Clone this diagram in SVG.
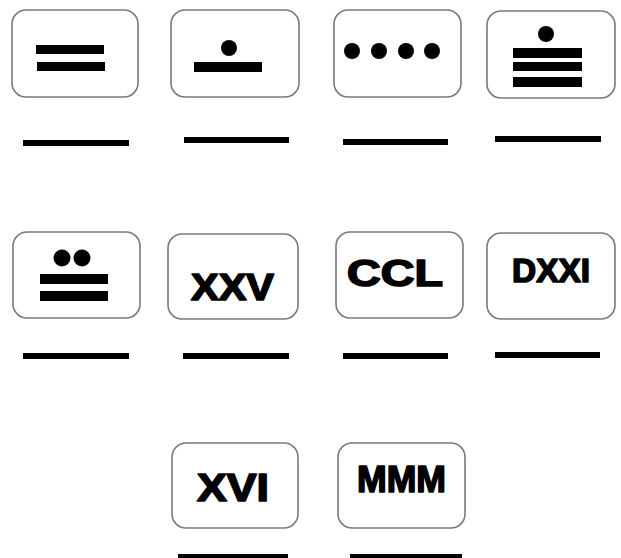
<svg xmlns="http://www.w3.org/2000/svg" width="621" height="558" viewBox="0 0 621 558">
<style>
.box{fill:#fff;stroke:#7a7a7a;stroke-width:1.6}
.bar{fill:#000}
.line{fill:#000}
.num{font-family:"Liberation Sans",Arial,sans-serif;font-weight:bold;fill:#000;stroke:#000;stroke-width:1.6;stroke-linejoin:round}
</style>
<rect width="621" height="558" fill="#fff"/>
<g id="n1">
<rect class="box" x="12" y="10" width="126" height="87" rx="14"/>
<rect class="bar" x="36" y="45" width="68" height="9"/>
<rect class="bar" x="37" y="62" width="68" height="9"/>
<rect class="line" x="23" y="140" width="106" height="6"/>
</g>
<g id="n2">
<rect class="box" x="171" y="10" width="128" height="87" rx="14"/>
<circle class="bar" cx="229" cy="48" r="8"/>
<rect class="bar" x="194" y="62" width="68" height="10"/>
<rect class="line" x="184" y="137" width="105" height="6"/>
</g>
<g id="n3">
<rect class="box" x="334" y="10" width="127" height="87" rx="14"/>
<circle class="bar" cx="352" cy="51" r="8"/>
<circle class="bar" cx="379" cy="51" r="8"/>
<circle class="bar" cx="406" cy="51" r="8"/>
<circle class="bar" cx="432" cy="51" r="8"/>
<rect class="line" x="343" y="139" width="105" height="6"/>
</g>
<g id="n4">
<rect class="box" x="487" y="11" width="128" height="87" rx="14"/>
<circle class="bar" cx="546" cy="34" r="8"/>
<rect class="bar" x="513" y="48" width="69" height="10"/>
<rect class="bar" x="513" y="62" width="69" height="9"/>
<rect class="bar" x="513" y="77" width="69" height="10"/>
<rect class="line" x="495" y="136" width="106" height="6"/>
</g>
<g id="n5">
<rect class="box" x="13" y="232" width="127" height="86" rx="14"/>
<circle class="bar" cx="62" cy="258" r="8.5"/>
<circle class="bar" cx="82" cy="258" r="8.5"/>
<rect class="bar" x="40" y="274" width="68" height="10"/>
<rect class="bar" x="40" y="291" width="68" height="10"/>
<rect class="line" x="23" y="353" width="106" height="6"/>
</g>
<g id="n6">
<rect class="box" x="168" y="234" width="130" height="85" rx="14"/>
<text class="num" x="191" y="300" font-size="36" textLength="83" lengthAdjust="spacingAndGlyphs">XXV</text>
<rect class="line" x="183" y="353" width="106" height="6"/>
</g>
<g id="n7">
<rect class="box" x="336" y="232" width="127" height="86" rx="14"/>
<text class="num" x="347" y="286" font-size="36" textLength="96" lengthAdjust="spacingAndGlyphs">CCL</text>
<rect class="line" x="343" y="353" width="105" height="6"/>
</g>
<g id="n8">
<rect class="box" x="487" y="233" width="128" height="86" rx="14"/>
<text class="num" x="512" y="282" font-size="33" textLength="78" lengthAdjust="spacingAndGlyphs">DXXI</text>
<rect class="line" x="495" y="352" width="105" height="6"/>
</g>
<g id="n9">
<rect class="box" x="172" y="443" width="126" height="85" rx="14"/>
<text class="num" x="197" y="501" font-size="38" textLength="72" lengthAdjust="spacingAndGlyphs">XVI</text>
<rect class="line" x="178" y="554" width="110" height="6"/>
</g>
<g id="n10">
<rect class="box" x="338" y="443" width="127" height="85" rx="14"/>
<text class="num" x="357" y="492" font-size="37" textLength="89" lengthAdjust="spacingAndGlyphs">MMM</text>
<rect class="line" x="350" y="554" width="112" height="6"/>
</g>
<g id="connectors"/>
</svg>
